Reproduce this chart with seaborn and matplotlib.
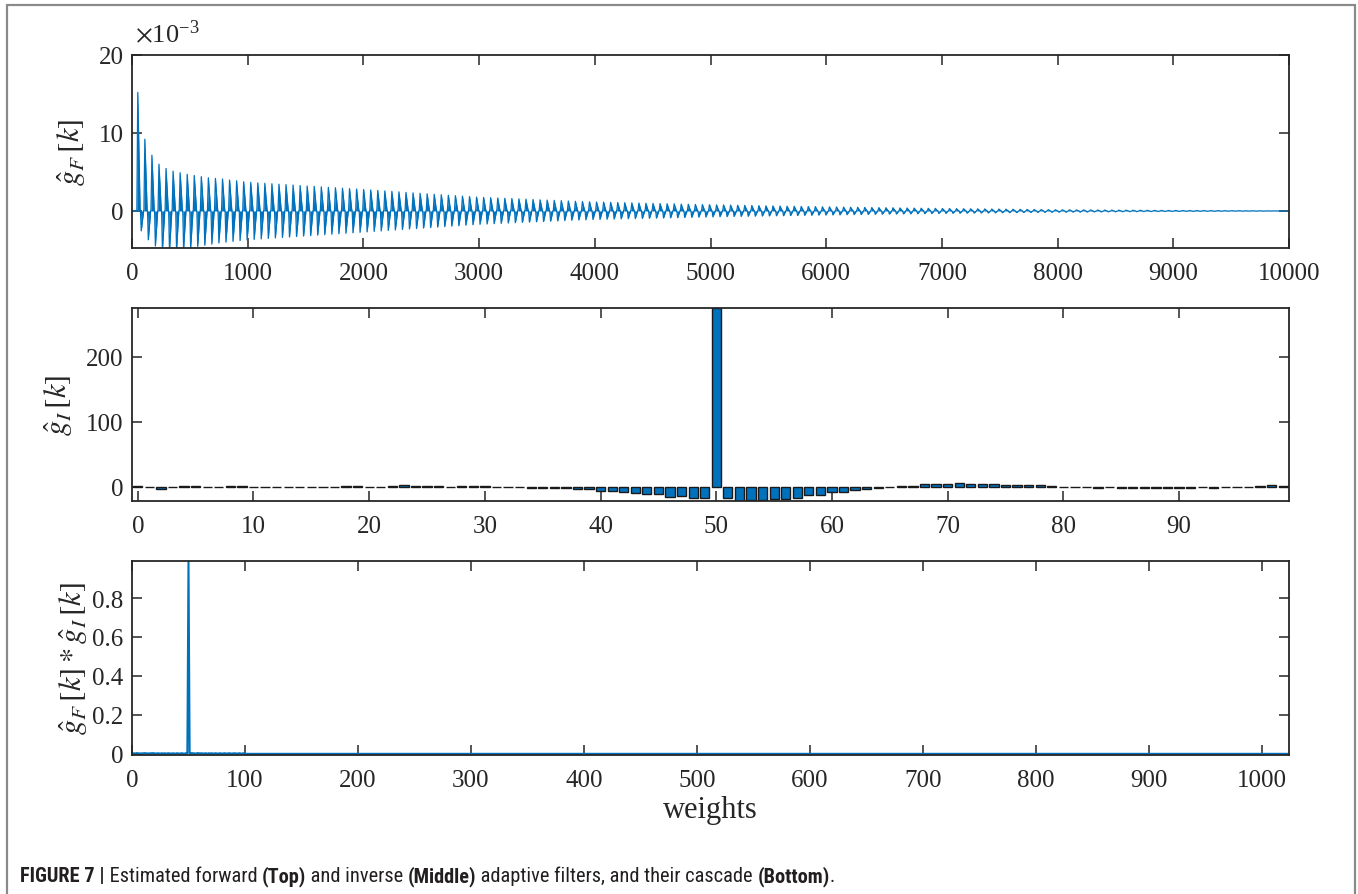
import numpy as np
import pandas as pd
import matplotlib
matplotlib.use("Agg")
import matplotlib.pyplot as plt
from matplotlib.lines import Line2D
from matplotlib import font_manager
from matplotlib.offsetbox import TextArea, HPacker, AnchoredOffsetbox
import seaborn as sns

# ---------------------------------------------------------------------------
# Forward filter g_F[k]: one positive and one negative spike per cycle
# (peak magnitudes in units of 1e-3)
# ---------------------------------------------------------------------------
fwd_first_peak = 50      # sample index of the first positive spike
fwd_period = 61          # samples between successive spikes
fwd_length = 10000

fwd_pos_peak = [
    15.2, 9.2, 7.15, 6.0, 5.45, 5.1, 4.9, 4.7, 4.55, 4.4, 4.25, 4.17, 4.1, 3.96, 3.87, 3.74, 3.66,
    3.60, 3.55, 3.49, 3.43, 3.38, 3.32, 3.26, 3.20, 3.15, 3.09, 3.03, 2.98, 2.92, 2.86, 2.81, 2.75,
    2.69, 2.63, 2.57, 2.51, 2.45, 2.38, 2.32, 2.26, 2.20, 2.14, 2.08, 2.02, 1.96, 1.90, 1.84, 1.78,
    1.74, 1.70, 1.66, 1.62, 1.59, 1.55, 1.51, 1.47, 1.43, 1.40, 1.36, 1.32, 1.28, 1.25, 1.21, 1.17,
    1.15, 1.13, 1.10, 1.08, 1.06, 1.04, 1.02, 0.99, 0.97, 0.95, 0.93, 0.91, 0.88, 0.86, 0.84, 0.82, 0.80,
    0.78, 0.77, 0.75, 0.73, 0.72, 0.70, 0.68, 0.66, 0.65, 0.63, 0.61, 0.60, 0.58, 0.56, 0.55, 0.53,
    0.52, 0.51, 0.49, 0.48, 0.47, 0.46, 0.44, 0.43, 0.42, 0.41, 0.39, 0.38, 0.37, 0.36, 0.34, 0.33, 0.32,
    0.31, 0.30, 0.29, 0.28, 0.27, 0.26, 0.25, 0.24, 0.23, 0.22, 0.21, 0.20, 0.19, 0.18, 0.17, 0.16,
    0.15, 0.15, 0.14, 0.14, 0.13, 0.12, 0.12, 0.11, 0.10, 0.10, 0.09, 0.09, 0.08, 0.07, 0.07, 0.06, 0.06,
    0.05, 0.05, 0.05, 0.04, 0.04, 0.04, 0.03, 0.03, 0.03, 0.02, 0.02, 0.02, 0.01, 0.01, 0.01,
]
fwd_neg_peak = [
    2.55, 3.7, 4.5, 5.0, 5.1, 5.0, 4.9, 4.75, 4.55, 4.4, 4.25, 4.1, 4.0, 3.9, 3.8, 3.72, 3.65,
    3.58, 3.52, 3.46, 3.40, 3.34, 3.28, 3.22, 3.16, 3.10, 3.04, 2.98, 2.92, 2.86, 2.80, 2.74, 2.68,
    2.62, 2.56, 2.50, 2.44, 2.38, 2.31, 2.25, 2.19, 2.13, 2.07, 2.01, 1.95, 1.89, 1.83, 1.77, 1.71,
    1.67, 1.63, 1.59, 1.55, 1.51, 1.47, 1.43, 1.39, 1.35, 1.31, 1.27, 1.23, 1.19, 1.16, 1.13, 1.10,
    1.08, 1.06, 1.04, 1.02, 1.00, 0.98, 0.96, 0.94, 0.92, 0.90, 0.88, 0.86, 0.84, 0.82, 0.80, 0.78, 0.76,
    0.74, 0.73, 0.71, 0.70, 0.68, 0.67, 0.65, 0.64, 0.62, 0.61, 0.59, 0.58, 0.56, 0.55, 0.53, 0.52,
    0.51, 0.50, 0.48, 0.47, 0.46, 0.45, 0.43, 0.42, 0.41, 0.40, 0.38, 0.37, 0.36, 0.35, 0.33, 0.32, 0.31,
    0.30, 0.29, 0.28, 0.27, 0.26, 0.25, 0.24, 0.23, 0.22, 0.21, 0.20, 0.19, 0.18, 0.17, 0.16, 0.15,
    0.15, 0.14, 0.14, 0.13, 0.12, 0.12, 0.11, 0.11, 0.10, 0.09, 0.09, 0.08, 0.08, 0.07, 0.07, 0.06, 0.06,
    0.05, 0.05, 0.05, 0.04, 0.04, 0.04, 0.03, 0.03, 0.03, 0.02, 0.02, 0.02, 0.01, 0.01, 0.01,
]
assert len(fwd_pos_peak) == len(fwd_neg_peak)

# ---------------------------------------------------------------------------
# Inverse filter g_I[k], taps 0..99
# ---------------------------------------------------------------------------
inv_taps = list(range(100))
inv_values = [
    0.5, -0.5, -3.0, -1.0, 1.0, 0.5, 0.3, -0.3, 1.0, 1.0,
    0.2, -0.2, 0.3, 0.2, -0.2, -0.4, -0.5, -0.8, 0.6, 1.5,
    0.3, -0.2, 1.0, 2.2, 0.6, 1.0, 1.2, 0.3, 0.6, 1.5,
    0.5, -0.2, -1.0, -1.0, -1.5, -2.0, -2.6, -2.6, -3.1, -4.1,
    -6.7, -6.2, -7.7, -9.2, -11.3, -11.3, -15.4, -14.9, -17.0, -18.0,
    275.0, -18.0, -22.0, -20.5, -20.5, -19.0, -19.0, -17.0, -12.8, -12.8,
    -8.7, -7.7, -5.1, -4.1, -2.6, -0.5, 1.5, 1.0, 4.6, 3.6,
    3.6, 6.2, 4.6, 3.6, 3.6, 3.0, 3.0, 2.6, 2.0, 1.0,
    0.0, -0.5, -0.5, -2.0, -1.0, -1.5, -1.5, -1.5, -1.5, -1.5,
    -2.6, -1.5, -1.0, -2.0, -0.5, -0.5, 0.0, 1.0, 2.0, 1.0,
]
assert len(inv_values) == len(inv_taps)

# ---------------------------------------------------------------------------
# Cascade g_F * g_I: leading taps 0..100, zero for the rest of 1024 taps
# ---------------------------------------------------------------------------
cascade_length = 1024
cascade_head = [
    0.004, 0.002, 0.003, 0.001, 0.004, 0.002, 0.003, 0.002, 0.001, 0.003,
    0.002, 0.004, 0.002, 0.003, 0.001, 0.002, 0.003, 0.002, 0.004, 0.002,
    0.003, 0.001, 0.002, 0.003, 0.002, 0.001, 0.003, 0.002, 0.002, 0.003,
    0.001, 0.002, 0.003, 0.002, 0.002, 0.001, 0.003, 0.002, 0.001, 0.002,
    0.003, 0.002, 0.001, 0.002, 0.003, 0.002, 0.001, 0.002, 0.003, 0.002,
    0.990,
    0.003, 0.002, 0.004, 0.002, 0.003, 0.001, 0.002, 0.004, 0.002, 0.003,
    0.002, 0.003, 0.001, 0.002, 0.003, 0.002, 0.001, 0.003, 0.002, 0.002,
    0.003, 0.001, 0.002, 0.003, 0.002, 0.001, 0.002, 0.003, 0.002, 0.001,
    0.002, 0.003, 0.002, 0.001, 0.002, 0.003, 0.002, 0.001, 0.002, 0.002,
    0.003, 0.002, 0.001, 0.002, 0.003, 0.002, 0.001, 0.002, 0.003, 0.002,
]

fwd_xticks = list(range(0, 10001, 1000))
fwd_yticks = [0, 10, 20]
inv_xticks = list(range(0, 91, 10))
inv_yticks = [0, 100, 200]
cas_xticks = list(range(0, 1001, 100))
cas_yticks = [0, 0.2, 0.4, 0.6, 0.8]
cas_yticklabels = ["0", "0.2", "0.4", "0.6", "0.8"]

# ---------------------------------------------------------------------------
# Style
# ---------------------------------------------------------------------------
BLUE = "#0072BD"
INK = "#262626"

sns.set_style("white")
plt.rcParams.update({
    "font.family": ["Liberation Serif", "DejaVu Serif"],
    "mathtext.fontset": "stix",
    "axes.edgecolor": INK,
    "axes.linewidth": 1.3,
    "axes.labelcolor": INK,
    "xtick.direction": "in",
    "ytick.direction": "in",
    "xtick.top": True,
    "ytick.right": True,
    "xtick.bottom": True,
    "ytick.left": True,
    "xtick.major.size": 7,
    "ytick.major.size": 7,
    "xtick.major.width": 1.1,
    "ytick.major.width": 1.1,
    "xtick.color": INK,
    "ytick.color": INK,
    "xtick.labelsize": 18,
    "ytick.labelsize": 18,
    "xtick.major.pad": 10,
    "ytick.major.pad": 6,
})

fig = plt.figure(figsize=(13.58, 8.95), dpi=100)
W, H = 1358.0, 895.0


def axes_box(left, top, right, bottom):
    return [left / W, 1 - bottom / H, (right - left) / W, (bottom - top) / H]


ax_f = fig.add_axes(axes_box(132, 56, 1289, 249))
ax_i = fig.add_axes(axes_box(132, 309, 1289, 502))
ax_c = fig.add_axes(axes_box(132, 562, 1289, 756))

# --- forward filter -------------------------------------------------------
rise, fall, half = 8, 20, 30
fx, fy = [0.0], [0.0]
for k, (p, n) in enumerate(zip(fwd_pos_peak, fwd_neg_peak)):
    xk = fwd_first_peak + fwd_period * k
    fx += [xk - rise, xk, xk + fall, xk + half - rise + 1, xk + half, xk + half + fall]
    fy += [0.0, p, 0.0, 0.0, -n, 0.0]
fx.append(fwd_length)
fy.append(0.0)
fwd_df = pd.DataFrame({"k": fx, "g": fy})

ax_f.fill_between(fwd_df["k"], fwd_df["g"], 0, color=BLUE, lw=0)
sns.lineplot(data=fwd_df, x="k", y="g", estimator=None, sort=False,
             color=BLUE, lw=0.9, ax=ax_f)
ax_f.set_xlim(0, fwd_length)
ax_f.set_ylim(-4.75, 20)
ax_f.set_xticks(fwd_xticks)
ax_f.set_yticks(fwd_yticks)
ax_f.set_xlabel("")
ax_f.set_ylabel(r"$\hat{g}_{F}\,[k]$", fontsize=22, labelpad=8)
ax_f.text(0.003, 1.04, r"$\times\mathregular{10}^{\mathregular{-3}}$", transform=ax_f.transAxes,
          fontsize=19, color=INK, ha="left", va="bottom")

# --- inverse filter -------------------------------------------------------
inv_df = pd.DataFrame({"k": inv_taps, "g": inv_values})
sns.barplot(data=inv_df, x="k", y="g", native_scale=True, width=0.8,
            color=BLUE, saturation=1, edgecolor="#1a1a1a", linewidth=1.0, ax=ax_i)
ax_i.set_xlim(-0.5, 99.5)
ax_i.set_ylim(min(inv_values), max(inv_values))
ax_i.set_xticks(inv_xticks)
ax_i.set_xticklabels([str(t) for t in inv_xticks])
ax_i.set_yticks(inv_yticks)
ax_i.set_xlabel("")
ax_i.set_ylabel(r"$\hat{g}_{I}\,[k]$", fontsize=22, labelpad=8)

# --- cascade --------------------------------------------------------------
cas_values = cascade_head + [0.0] * (cascade_length - len(cascade_head))
cas_df = pd.DataFrame({"k": np.arange(cascade_length), "g": cas_values})
sns.lineplot(data=cas_df, x="k", y="g", estimator=None, sort=False,
             color=BLUE, lw=1.5, ax=ax_c)
ax_c.set_xlim(0, cascade_length)
ax_c.set_ylim(-0.006, max(cascade_head))
ax_c.set_xticks(cas_xticks)
ax_c.set_yticks(cas_yticks)
ax_c.set_yticklabels(cas_yticklabels)
ax_c.set_xlabel("weights", fontsize=22, labelpad=3)
ax_c.set_ylabel(r"$\hat{g}_{F}\,[k] * \hat{g}_{I}\,[k]$", fontsize=22, labelpad=2)

for ax in (ax_f, ax_i, ax_c):
    for s in ax.spines.values():
        s.set_visible(True)
        s.set_color(INK)
        s.set_linewidth(1.3)
    ax.tick_params(which="both", top=True, right=True, direction="in")

# --- outer frame ----------------------------------------------------------
frame_kw = dict(transform=fig.transFigure, color="#8a8a8a", lw=1.6)
fig.add_artist(Line2D([7 / W, 7 / W], [0, 1 - 6 / H], **frame_kw))
fig.add_artist(Line2D([1355 / W, 1355 / W], [0, 1 - 6 / H], **frame_kw))
fig.add_artist(Line2D([7 / W, 1355 / W], [1 - 6 / H, 1 - 6 / H], **frame_kw))

# --- caption --------------------------------------------------------------
available = {f.name for f in font_manager.fontManager.ttflist}
cap_family = "DejaVu Sans"
for cand in ["Liberation Sans Narrow", "Roboto Condensed", "Open Sans Condensed",
             "DejaVu Sans Condensed", "Liberation Sans"]:
    if cand in available:
        cap_family = cand
        break

caption = [
    ("FIGURE 7 |", "bold"),
    (" Estimated forward ", "normal"),
    ("(Top)", "bold"),
    (" and inverse ", "normal"),
    ("(Middle)", "bold"),
    (" adaptive filters, and their cascade ", "normal"),
    ("(Bottom)", "bold"),
    (".", "normal"),
]
parts = [TextArea(s, textprops=dict(fontsize=14.7, fontweight=w, family=cap_family,
                                     color="#231f20"))
         for s, w in caption]
pack = HPacker(children=parts, align="baseline", pad=0, sep=0)
box = AnchoredOffsetbox(loc="lower left", child=pack, pad=0, borderpad=0, frameon=False,
                        bbox_to_anchor=(20 / W, 1 - 887 / H),
                        bbox_transform=fig.transFigure)
fig.add_artist(box)

fig.savefig("out.png", dpi=100)
